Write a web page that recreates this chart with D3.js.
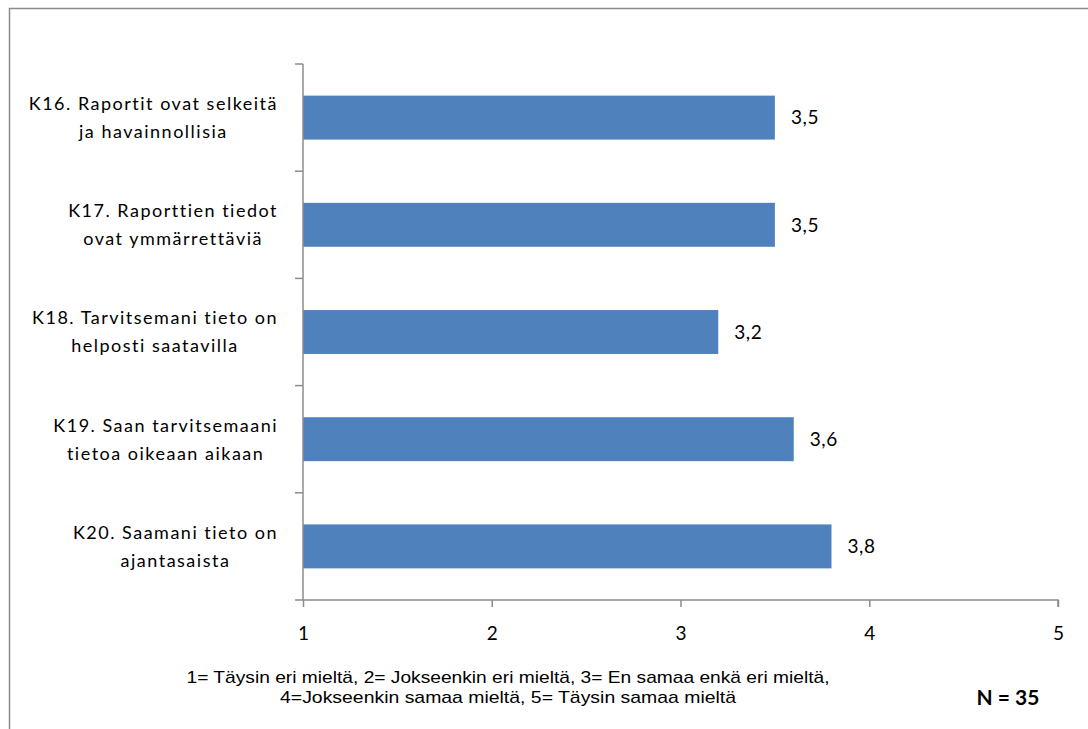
<!DOCTYPE html>
<html><head><meta charset="utf-8">
<script src="https://cdn.jsdelivr.net/npm/d3@7"></script>
<style>body{margin:0;background:#fff}svg{display:block}</style>
</head><body>
<svg id="c" width="1088" height="729"></svg>
<script>
const categories = [
  ["K16. Raportit ovat selkeitä", "ja havainnollisia"],
  ["K17. Raporttien tiedot", "ovat ymmärrettäviä"],
  ["K18. Tarvitsemani tieto on", "helposti saatavilla"],
  ["K19. Saan tarvitsemaani", "tietoa oikeaan aikaan"],
  ["K20. Saamani tieto on", "ajantasaista"]
];
const values = [3.5, 3.5, 3.2, 3.6, 3.8];
const xTicks = [1, 2, 3, 4, 5];
const footerLines = ["1= Täysin eri mieltä, 2= Jokseenkin eri mieltä, 3= En samaa enkä eri mieltä,", "4=Jokseenkin samaa mieltä, 5= Täysin samaa mieltä"];
const nLabel = "N = 35";

(function () {
const svg = d3.select("#c");
const catFont = "Lato, 'Open Sans', sans-serif";
const arial = "'Liberation Sans', Arial, sans-serif";

svg.append("rect").attr("x", 9.5).attr("y", 8.5).attr("width", 1200).attr("height", 800)
  .attr("fill", "none").attr("stroke", "#8c8c8c").attr("stroke-width", 1.5);

const pL = 303, pR = 1058, pT = 64, pB = 600;
const x = d3.scaleLinear().domain([1, 5]).range([pL, pR]);
const y = d3.scaleBand().domain(d3.range(categories.length)).range([pT, pB]).paddingInner(0.59).paddingOuter(0.295);

svg.append("g").selectAll("rect").data(values).join("rect")
  .attr("x", x(1)).attr("y", (d, i) => y(i))
  .attr("width", d => x(d) - x(1)).attr("height", y.bandwidth())
  .attr("fill", "#4f81bd");

svg.append("g").selectAll("text").data(values).join("text")
  .attr("x", d => x(d) + 16).attr("y", (d, i) => y(i) + y.bandwidth() / 2)
  .attr("dy", "0.36em").attr("font-family", catFont).attr("font-size", 19).attr("letter-spacing", 0.6).attr("fill", "#000")
  .text(d => d.toFixed(1).replace(".", ","));

const axisColor = "#8c8c8c";
const step = (pB - pT) / categories.length;
const yTicks = d3.range(categories.length + 1).map(i => pT + i * step);
svg.append("line").attr("x1", pL).attr("x2", pL).attr("y1", pT).attr("y2", pB)
  .attr("stroke", axisColor).attr("stroke-width", 1.5);
svg.append("g").selectAll("line").data(yTicks).join("line")
  .attr("x1", pL - 8).attr("x2", pL).attr("y1", d => d).attr("y2", d => d)
  .attr("stroke", axisColor).attr("stroke-width", 1.5);

const xAxis = d3.axisBottom(x).tickValues(xTicks).tickSize(7).tickPadding(20).tickFormat(d3.format("d"));
const gx = svg.append("g").attr("transform", `translate(0,${pB})`).call(xAxis);
gx.select(".domain").attr("stroke", axisColor).attr("stroke-width", 1.5).attr("d", `M${pL},0H${pR}V7`);
gx.selectAll(".tick line").attr("stroke", axisColor).attr("stroke-width", 1.5);
gx.selectAll(".tick text").attr("font-family", catFont).attr("font-size", 19).attr("fill", "#000");

const labelRight = 278;
const cg = svg.append("g");
categories.forEach((lines, i) => {
  const cy = y(i) + y.bandwidth() / 2;
  const g = cg.append("g");
  const texts = lines.map((t, k) => g.append("text")
    .attr("y", cy + (k === 0 ? -14 : 14)).attr("dy", "0.36em")
    .attr("font-family", catFont).attr("font-size", 18).attr("letter-spacing", 1.5).attr("fill", "#000").text(t));
  const w = Math.max(...texts.map(t => t.node().getComputedTextLength()));
  texts.forEach(t => t.attr("x", labelRight - w / 2).attr("text-anchor", "middle"));
});

const footerWidths = [643, 456];
svg.append("g").selectAll("text").data(footerLines).join("text")
  .attr("x", 508).attr("y", (d, i) => 677 + i * 20).attr("dy", "0.36em")
  .attr("text-anchor", "middle").attr("font-family", arial).attr("font-size", 17).attr("fill", "#000")
  .attr("textLength", (d, i) => footerWidths[i]).attr("lengthAdjust", "spacingAndGlyphs")
  .text(d => d);
svg.append("text").attr("x", 1008).attr("y", 697).attr("dy", "0.36em").attr("text-anchor", "middle")
  .attr("font-family", catFont).attr("font-size", 21).attr("font-weight", "bold").attr("fill", "#000").text(nLabel);
})();
</script>
</body></html>
